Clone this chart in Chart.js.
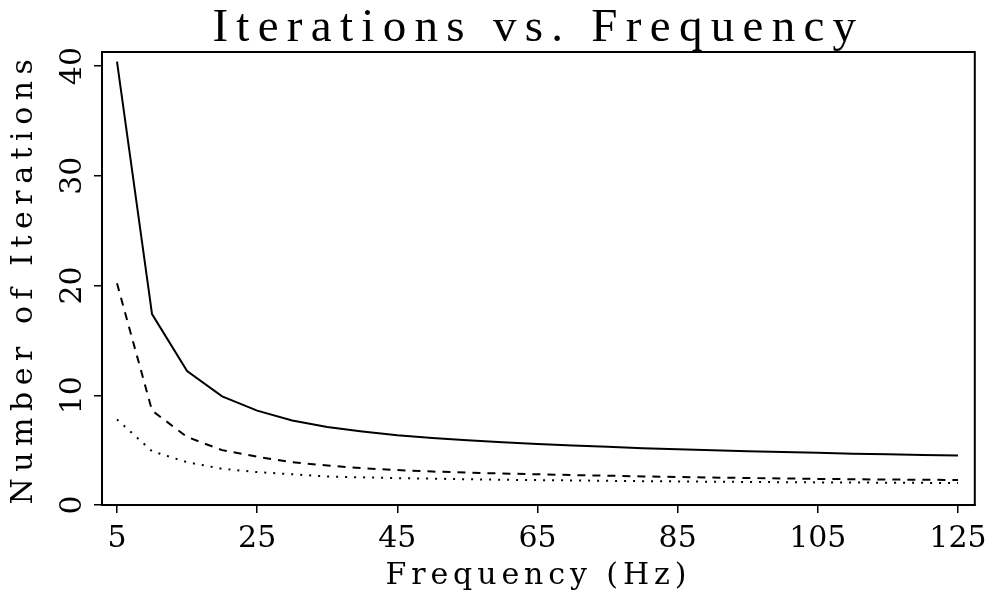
<!DOCTYPE html>
<html>
<head>
<meta charset="utf-8">
<title>Iterations vs. Frequency</title>
<script src="https://cdn.jsdelivr.net/npm/chart.js@4.4.0/dist/chart.umd.min.js"></script>
<style>
  html, body { margin: 0; padding: 0; background: #fff; }
</style>
</head>
<body>
<canvas id="iterChart" width="995" height="597"></canvas>
<script>
// values
const frequencies = [5, 10, 15, 20, 25, 30, 35, 40, 45, 50, 55, 60, 65,
                     70, 75, 80, 85, 90, 95, 100, 105, 110, 115, 120, 125];
const solidIters  = [40.4, 17.4, 12.2, 9.9, 8.6, 7.7, 7.1, 6.7, 6.35, 6.1, 5.9, 5.72, 5.56,
                     5.42, 5.3, 5.18, 5.08, 4.98, 4.9, 4.82, 4.75, 4.68, 4.62, 4.56, 4.5];
const dashedIters = [20.2, 8.6, 6.2, 5.0, 4.4, 3.9, 3.6, 3.35, 3.18, 3.05, 2.95, 2.87, 2.8,
                     2.73, 2.67, 2.6, 2.55, 2.5, 2.46, 2.42, 2.38, 2.35, 2.32, 2.3, 2.28];
const dottedIters = [7.8, 4.9, 3.9, 3.3, 3.0, 2.8, 2.6, 2.52, 2.45, 2.4, 2.35, 2.3, 2.27,
                     2.24, 2.2, 2.17, 2.15, 2.12, 2.1, 2.08, 2.06, 2.05, 2.03, 2.02, 2.0];
const xTicks = [5, 25, 45, 65, 85, 105, 125];
const yTicks = [0, 10, 20, 30, 40];

const TITLE_TEXT = 'Iterations vs. Frequency';
const X_TITLE = 'Frequency (Hz)';
const Y_TITLE = 'Number of Iterations';

const SERIF = '"DejaVu Serif", serif';
const THIN_SERIF = '"Liberation Serif", serif';

const toPoints = (ys) => frequencies.map((f, i) => ({ x: f, y: ys[i] }));

const canvas = document.getElementById('iterChart');
const ctx = canvas.getContext('2d');

// the scan uses a typewriter-like spaced face; spread a proportional one to the same width
function spreadFor(text, font, targetWidth) {
  ctx.save();
  ctx.font = font;
  ctx.letterSpacing = '0px';
  const w = ctx.measureText(text).width;
  ctx.restore();
  return (targetWidth - w) / text.length;
}
const titleSpread = spreadFor(TITLE_TEXT, '47px ' + THIN_SERIF, 652);
const xTitleSpread = spreadFor(X_TITLE, '30px ' + SERIF, 306);
const yTitleSpread = spreadFor(Y_TITLE, '30px ' + SERIF, 452);

function withSpread(obj, key, spread) {
  const orig = obj[key].bind(obj);
  obj[key] = function () {
    const c = this.ctx || ctx;
    c.letterSpacing = spread + 'px';
    orig();
    c.letterSpacing = '0px';
  };
}

const spacedText = {
  id: 'spacedText',
  afterInit(chart) {
    withSpread(chart.titleBlock, 'draw', titleSpread);
  },
  afterUpdate(chart) {
    const sx = chart.scales.x, sy = chart.scales.y;
    if (!sx._spread) { withSpread(sx, 'drawTitle', xTitleSpread); sx._spread = true; }
    if (!sy._spread) { withSpread(sy, 'drawTitle', yTitleSpread); sy._spread = true; }
  }
};

// closes the box on top and right
const frameBox = {
  id: 'frameBox',
  afterDatasetsDraw(chart) {
    const { ctx: c, chartArea: a } = chart;
    c.save();
    c.strokeStyle = '#000';
    c.lineWidth = 2;
    c.strokeRect(a.left, a.top, a.right - a.left, a.bottom - a.top);
    c.restore();
  }
};

new Chart(ctx, {
  type: 'line',
  data: {
    datasets: [
      { label: 'solid', data: toPoints(solidIters), borderColor: '#000', borderWidth: 2 },
      { label: 'dashed', data: toPoints(dashedIters), borderColor: '#000', borderWidth: 2, borderDash: [8, 7] },
      { label: 'dotted', data: toPoints(dottedIters), borderColor: '#000', borderWidth: 2, borderDash: [2, 7] }
    ]
  },
  options: {
    responsive: false,
    animation: false,
    devicePixelRatio: 1,
    elements: { point: { radius: 0 }, line: { tension: 0 } },
    layout: { padding: { left: 0, right: 20, top: 0, bottom: 0 } },
    plugins: {
      legend: { display: false },
      tooltip: { enabled: false },
      title: {
        display: true,
        fullSize: false,
        text: TITLE_TEXT,
        color: '#000',
        font: { family: THIN_SERIF, size: 47, weight: 'normal', lineHeight: 1 },
        padding: { top: 5, bottom: 0 }
      }
    },
    scales: {
      x: {
        type: 'linear',
        min: 2.86,
        max: 127.4,
        afterBuildTicks: (scale) => { scale.ticks = xTicks.map(v => ({ value: v })); },
        afterFit: (scale) => { scale.height = 92; },
        grid: { display: true, drawOnChartArea: false, drawTicks: true, tickLength: 8, color: '#000', lineWidth: 1.5 },
        border: { display: true, color: '#000', width: 2 },
        ticks: { color: '#000', font: { family: SERIF, size: 30 }, padding: 8, maxRotation: 0 },
        title: {
          display: true,
          text: X_TITLE,
          color: '#000',
          font: { family: SERIF, size: 30, lineHeight: 1 },
          padding: { top: 0, bottom: 6 }
        }
      },
      y: {
        type: 'linear',
        min: 0,
        max: 41.28,
        afterBuildTicks: (scale) => { scale.ticks = yTicks.map(v => ({ value: v })); },
        afterFit: (scale) => { scale.width = 102; },
        grid: { display: true, drawOnChartArea: false, drawTicks: true, tickLength: 8, color: '#000', lineWidth: 1.5 },
        border: { display: true, color: '#000', width: 2 },
        ticks: { color: '#000', font: { family: SERIF, size: 30 }, padding: 2, minRotation: 90, maxRotation: 90, crossAlign: 'center' },
        title: {
          display: true,
          text: Y_TITLE,
          color: '#000',
          font: { family: SERIF, size: 30, lineHeight: 1 },
          padding: { top: 9, bottom: 0 }
        }
      }
    }
  },
  plugins: [spacedText, frameBox]
});
</script>
</body>
</html>
